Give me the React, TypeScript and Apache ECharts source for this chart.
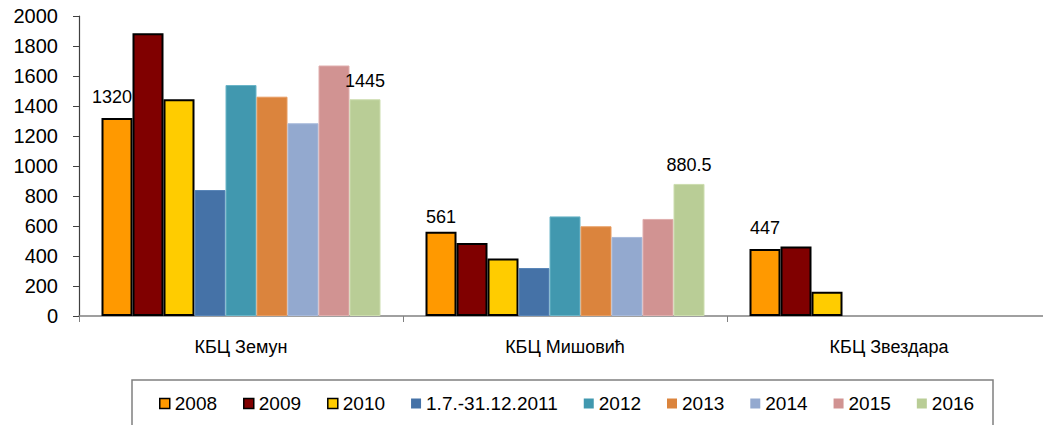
import React, { useEffect, useRef } from "react";
import * as echarts from "echarts";

const categories = ["КБЦ Земун", "КБЦ Мишовић", "КБЦ Звездара"];
const seriesNames = ["2008", "2009", "2010", "1.7.-31.12.2011", "2012", "2013", "2014", "2015", "2016"];
const s2008 = [1320, 561, 447];
const s2009 = [1885, 487, 464];
const s2010 = [1445, 384, 162];
const s2011 = [840, 320, null];
const s2012 = [1540, 664, null];
const s2013 = [1462, 598, null];
const s2014 = [1285, 527, null];
const s2015 = [1670, 647, null];
const s2016 = [1445, 880.5, null];
const seriesValues = [s2008, s2009, s2010, s2011, s2012, s2013, s2014, s2015, s2016];
const colors = ["#FF9900", "#800000", "#FFCC00", "#4572A7", "#4198AF", "#DB843D", "#93A9CF", "#D19392", "#B9CD96"];
const edgeColors = ["#000", "#000", "#000", "#5A86B8", "#6BB5C8", "#E89C60", "#A8BADB", "#E0AEAD", "#CCDDAE"];
// which points carry a value label: [seriesIndex, categoryIndex, distance, xOffset]
const labelled: [number, number, number, number][] = [
  [0, 0, 12, -5],
  [8, 0, 9, 0],
  [0, 1, 6, 0],
  [8, 1, 10, 0],
  [0, 2, 12, 0],
];
const yTicks = [0, 200, 400, 600, 800, 1000, 1200, 1400, 1600, 1800, 2000];

export default function App() {
  const ref = useRef<HTMLDivElement>(null);
  useEffect(() => {
    document.body.style.margin = "0";
    document.body.style.overflow = "hidden";
    const chart = echarts.init(ref.current!, null, { renderer: "svg" });
    const font = "Liberation Sans, Arial, sans-serif";
    const series = seriesNames.map((name, si) => ({
      name,
      type: "bar",
      barWidth: 31,
      barGap: "0%",
      itemStyle: {
        color: colors[si],
        borderColor: edgeColors[si],
        borderWidth: si < 3 ? 2 : 1,
      },
      data: seriesValues[si].map((v, ci) => {
        const l = labelled.find((x) => x[0] === si && x[1] === ci);
        if (!l) return v;
        return {
          value: v,
          label: {
            show: true,
            position: "top",
            distance: l[2],
            offset: [l[3], 0],
            fontSize: 18,
            fontFamily: font,
            color: "#000",
          },
        };
      }),
    }));
    chart.setOption({
      animation: false,
      backgroundColor: "#fff",
      grid: { left: 79, top: 16, width: 972, height: 300, containLabel: false },
      legend: {
        data: seriesNames.map((n, i) => ({
          name: n,
          itemStyle: i < 3 ? { borderColor: "#000", borderWidth: 1.5 } : { borderWidth: 0 },
        })),
        left: 159,
        top: 394,
        padding: 0,
        itemWidth: 10,
        itemHeight: 10,
        itemGap: 26,
        icon: "rect",
        textStyle: { fontSize: 19, fontFamily: font, color: "#000" },
      },
      xAxis: {
        type: "category",
        data: categories,
        axisLine: { lineStyle: { color: "#808080", width: 1.5 } },
        axisTick: { show: true, length: 6, inside: false, alignWithLabel: false, lineStyle: { color: "#808080" } },
        axisLabel: { fontSize: 18, fontFamily: font, color: "#000", margin: 22 },
      },
      yAxis: {
        type: "value",
        min: 0,
        max: 2000,
        interval: 200,
        splitLine: { show: false },
        axisLine: { show: true, lineStyle: { color: "#404040", width: 1.2 } },
        axisTick: { show: true, length: 6, lineStyle: { color: "#404040" } },
        axisLabel: {
          fontSize: 20,
          fontFamily: font,
          color: "#000",
          margin: 21,
          formatter: (v: number) => (yTicks.includes(v) ? String(v) : ""),
        },
      },
      graphic: [
        {
          type: "rect",
          shape: { x: 132, y: 380, width: 861, height: 80 },
          style: { fill: "none", stroke: "#808080", lineWidth: 1.5 },
          silent: true,
          z: -1,
        },
      ],
      series,
    });
    return () => chart.dispose();
  }, []);
  return <div ref={ref} style={{ width: 1051, height: 425, position: "fixed", left: 0, top: 0 }} />;
}
